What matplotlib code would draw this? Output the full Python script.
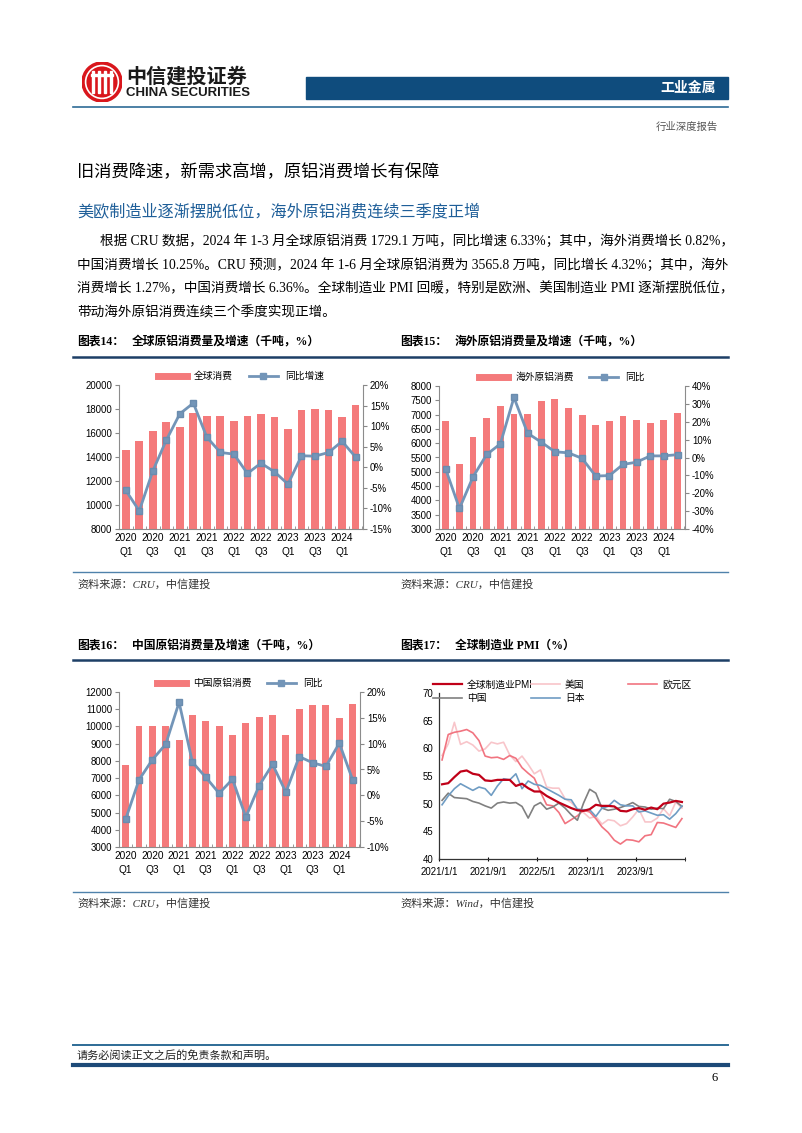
import numpy as np
import matplotlib.pyplot as plt
from matplotlib.lines import Line2D
from matplotlib.patches import Circle, Rectangle

plt.rcParams['font.family'] = ['Liberation Sans', 'Noto Sans CJK SC']
SERIF = ['Liberation Serif', 'Noto Sans CJK SC']
CJK = ['Noto Sans CJK SC', 'DejaVu Sans']

# ---- 数据 ----
q_labels = ["2020\nQ1", "2020\nQ3", "2021\nQ1", "2021\nQ3", "2022\nQ1",
            "2022\nQ3", "2023\nQ1", "2023\nQ3", "2024\nQ1"]

global_cons = [14600, 15300, 16200, 16900, 16500, 17700, 17400, 17450, 17000,
               17450, 17550, 17350, 16300, 17950, 18000, 17950, 17350, 18350]
global_yoy = [-5.6, -10.6, -0.9, 6.6, 13.0, 15.6, 7.3, 3.6, 3.2,
              -1.5, 1.0, -1.1, -4.1, 2.8, 2.7, 3.6, 6.3, 2.5]

overseas_cons = [6780, 5270, 6200, 6870, 7300, 7030, 7020, 7470, 7530,
                 7220, 7000, 6650, 6760, 6940, 6810, 6690, 6820, 7060]
overseas_yoy = [-6.7, -28.5, -10.8, 1.7, 7.6, 33.6, 13.6, 8.6, 3.2,
                2.6, -0.5, -10.4, -10.1, -3.9, -2.6, 0.9, 0.9, 1.6]

china_cons = [7780, 10030, 10000, 10000, 9190, 10690, 10340, 10030, 9480,
              10220, 10560, 10640, 9530, 11000, 11230, 11220, 10500, 11320]
china_yoy = [-4.6, 3.0, 6.9, 9.9, 18.0, 6.4, 3.5, 0.4, 3.1,
             -4.2, 1.9, 6.0, 0.6, 7.5, 6.3, 5.6, 10.1, 3.0]

pmi_ticks = ["2021/1/1", "2021/9/1", "2022/5/1", "2023/1/1", "2023/9/1"]
pmi_global = [53.5, 53.7, 54.8, 55.8, 56.0, 55.4, 55.2, 54.2, 54.1, 54.3,
              54.3, 54.3, 53.2, 53.6, 52.8, 52.2, 52.2, 51.4, 50.8, 50.2,
              49.7, 49.2, 48.8, 48.7, 49.0, 49.8, 49.6, 49.6, 49.5, 48.7,
              48.6, 49.0, 49.2, 48.9, 49.3, 49.0, 50.0, 50.2, 50.5, 50.3]
pmi_us = [58.7, 60.8, 64.7, 60.7, 61.2, 60.6, 59.5, 59.9, 61.1, 60.8,
          61.1, 58.8, 57.6, 58.6, 57.1, 55.4, 56.1, 53.0, 52.8, 52.8,
          50.9, 50.2, 49.0, 48.4, 47.4, 47.7, 46.3, 47.1, 46.9, 46.0,
          46.4, 47.6, 49.0, 46.7, 46.7, 47.4, 49.1, 47.8, 50.3, 49.2]
pmi_euro = [57.9, 62.5, 62.9, 63.1, 63.4, 62.8, 61.4, 58.6, 58.3, 58.4,
            58.0, 58.7, 58.2, 56.5, 55.5, 54.6, 52.1, 49.8, 49.6, 48.4,
            46.4, 47.1, 47.8, 48.8, 48.5, 47.3, 45.8, 44.8, 43.4, 42.7,
            43.5, 43.4, 43.1, 44.2, 44.4, 46.6, 46.5, 46.1, 45.7, 47.3]
pmi_china = [50.6, 51.9, 51.1, 51.0, 50.9, 50.4, 50.1, 49.6, 49.2, 50.1,
             50.3, 50.1, 50.2, 49.5, 47.4, 49.6, 50.2, 49.0, 49.4, 50.1,
             49.2, 48.0, 47.0, 50.1, 52.6, 51.9, 49.2, 48.8, 49.0, 49.3,
             49.7, 50.2, 49.5, 49.4, 49.0, 49.2, 49.1, 50.8, 50.4, 49.5]
pmi_japan = [49.8, 51.4, 52.7, 53.6, 53.0, 52.4, 53.0, 52.7, 51.5, 53.2,
             54.5, 54.3, 55.4, 52.7, 54.1, 53.5, 53.3, 52.7, 52.1, 51.5,
             50.8, 50.7, 49.0, 48.9, 48.9, 47.7, 49.2, 49.5, 50.6, 49.8,
             49.6, 49.6, 48.5, 48.7, 48.3, 47.9, 48.0, 47.2, 48.2, 49.6]

body_lines = [
    "根据 CRU 数据，2024 年 1-3 月全球原铝消费 1729.1 万吨，同比增速 6.33%；其中，海外消费增长 0.82%，",
    "中国消费增长 10.25%。CRU 预测，2024 年 1-6 月全球原铝消费为 3565.8 万吨，同比增长 4.32%；其中，海外",
    "消费增长 1.27%，中国消费增长 6.36%。全球制造业 PMI 回暖，特别是欧洲、美国制造业 PMI 逐渐摆脱低位，",
    "带动海外原铝消费连续三个季度实现正增。",
]

BAR_C = '#f47a7b'
LINE_C = '#7395b8'
NAVY = '#0f4c7d'

W, H = 802, 1133
fig = plt.figure(figsize=(W / 100, H / 100), dpi=100)


def fy(y):
    return 1 - y / H


def axes_px(l, t, r, b):
    return fig.add_axes([l / W, 1 - b / H, (r - l) / W, (b - t) / H])


def hline(x0, x1, y, color, lw):
    fig.add_artist(Line2D([x0 / W, x1 / W], [fy(y), fy(y)], color=color, lw=lw))


def text(x, y, s, **kw):
    fig.text(x / W, fy(y), s, va='center', **kw)


# ---- 页眉 ----
logo = axes_px(81, 62, 123, 102)
logo.set_xlim(-1, 1)
logo.set_ylim(-1, 1)
logo.set_aspect('equal')
logo.axis('off')
logo.add_patch(Circle((0, 0), 1.0, color='#d9161c'))
logo.add_patch(Circle((0, 0), 0.82, fill=False, ec='white', lw=1.2))
for xx in [-0.45, -0.15, 0.15, 0.45]:
    logo.add_patch(Rectangle((xx - 0.06, -0.55), 0.12, 1.1, color='white'))
logo.add_patch(Rectangle((-0.55, 0.3), 1.1, 0.12, color='white'))

text(126, 76, "中信建投证券", fontsize=14.5, fontweight='bold', family=CJK, color='#1a1a1a')
text(126, 93, "CHINA SECURITIES", fontsize=9.5, fontweight='bold', color='#1a1a1a')
fig.add_artist(Rectangle((306 / W, fy(99)), (728 - 306) / W, 22 / H, color=NAVY,
                         transform=fig.transFigure))
text(716, 88, "工业金属", fontsize=10, fontweight='bold', family=CJK, color='white', ha='right')
hline(73, 728, 107, '#2d6b96', 1.2)
text(718, 127, "行业深度报告", fontsize=7.5, family=CJK, color='#555555', ha='right')

# ---- 标题与正文 ----
text(77, 172, "旧消费降速，新需求高增，原铝消费增长有保障", fontsize=12.4, family=CJK, color='black')
text(77, 212, "美欧制造业逐渐摆脱低位，海外原铝消费连续三季度正增", fontsize=11.6, family=CJK,
     color='#1f5f99')
for i, line in enumerate(body_lines):
    x0 = 100 if i == 0 else 77
    text(x0, 241 + i * 24, line, fontsize=9.8, family=SERIF, color='black')

# ---- 图表标题 ----
titles = [
    (77, 342, "图表14：", "全球原铝消费量及增速（千吨，%）"),
    (400, 342, "图表15：", "海外原铝消费量及增速（千吨，%）"),
    (77, 646, "图表16：", "中国原铝消费量及增速（千吨，%）"),
    (400, 646, "图表17：", "全球制造业 PMI（%）"),
]
for x0, y0, a, b in titles:
    text(x0, y0, a, fontsize=8.5, fontweight='bold', family=SERIF)
    text(x0 + 55, y0, b, fontsize=8.5, fontweight='bold', family=SERIF)
hline(73, 728, 357, '#1d3f66', 1.8)
hline(73, 728, 660, '#1d3f66', 1.8)

hline(73, 728, 572, '#4f82ab', 1.0)
hline(73, 728, 892, '#4f82ab', 1.0)
text(77, 584, "资料来源：CRU，中信建投", fontsize=8, style='italic', family=SERIF, color='#333333')
text(400, 584, "资料来源：CRU，中信建投", fontsize=8, style='italic', family=SERIF, color='#333333')
text(77, 903, "资料来源：CRU，中信建投", fontsize=8, style='italic', family=SERIF, color='#333333')
text(400, 903, "资料来源：Wind，中信建投", fontsize=8, style='italic', family=SERIF, color='#333333')


# ---- 柱状+折线 ----
def bar_chart(box, vals, yoy, bar_lab, line_lab, ylim_l, step_l, ylim_r, step_r, bw):
    ax = axes_px(*box)
    x = np.arange(len(vals))
    ax.bar(x, vals, width=bw, color=BAR_C, zorder=2)
    ax.set_xlim(-0.4, len(vals) - 0.45)
    ax.set_ylim(*ylim_l)
    ax.set_yticks(np.arange(ylim_l[0], ylim_l[1] + 1, step_l))
    ax.set_xticks(x[::2])
    ax.set_xticklabels(q_labels, fontsize=7.3, linespacing=1.5)
    ax.set_xticks(np.arange(-0.5, len(vals), 1), minor=True)
    ax.tick_params(axis='x', which='major', length=0, pad=3)
    ax.tick_params(axis='x', which='minor', length=2.5, direction='in', color='#888888')
    ax.tick_params(axis='y', labelsize=6.9, length=3, color='#888888', pad=2)
    for s in ['top', 'right']:
        ax.spines[s].set_visible(False)
    for s in ['left', 'bottom']:
        ax.spines[s].set_color('#8c8c8c')
        ax.spines[s].set_linewidth(0.8)

    ax2 = ax.twinx()
    ax2.plot(x, yoy, color=LINE_C, lw=2, marker='s', ms=5, mfc=LINE_C, mec='#6a8cae', zorder=3)
    ax2.set_ylim(*ylim_r)
    rt = np.arange(ylim_r[0], ylim_r[1] + 1, step_r)
    ax2.set_yticks(rt)
    ax2.set_yticklabels([f"{v}%" for v in rt])
    ax2.tick_params(axis='y', labelsize=6.9, length=3, color='#888888', pad=2)
    for s in ['top', 'left', 'bottom']:
        ax2.spines[s].set_visible(False)
    ax2.spines['right'].set_color('#8c8c8c')
    ax2.spines['right'].set_linewidth(0.8)

    handles = [Line2D([], [], color=BAR_C, lw=5),
               Line2D([], [], color=LINE_C, lw=2, marker='s', ms=5)]
    h = box[3] - box[1]
    ax2.legend(handles, [bar_lab, line_lab], loc='center', ncol=2, frameon=False,
               bbox_to_anchor=(0.5, 1 + 9 / h), fontsize=7, handlelength=3,
               handletextpad=0.7, columnspacing=1.6)
    return ax


bar_chart((119, 385, 363, 529), global_cons, global_yoy, "全球消费", "同比增速",
          (8000, 20000), 2000, (-15, 20), 5, 0.58)
bar_chart((439, 386, 685, 529), overseas_cons, overseas_yoy, "海外原铝消费", "同比",
          (3000, 8000), 500, (-40, 40), 10, 0.5)
bar_chart((119, 692, 360, 847), china_cons, china_yoy, "中国原铝消费", "同比",
          (3000, 12000), 1000, (-10, 20), 5, 0.52)

# ---- PMI ----
ax = axes_px(439, 693, 685, 859)
xm = np.arange(len(pmi_global)) + 0.5
l_us, = ax.plot(xm, pmi_us, color='#f8c5ca', lw=1.2)
l_eu, = ax.plot(xm, pmi_euro, color='#f17480', lw=1.2)
l_cn, = ax.plot(xm, pmi_china, color='#808080', lw=1.2)
l_jp, = ax.plot(xm, pmi_japan, color='#6f9cc3', lw=1.2)
l_gl, = ax.plot(xm, pmi_global, color='#c00018', lw=1.6)
ax.set_xlim(0, 40)
ax.set_ylim(40, 70)
ax.set_yticks(np.arange(40, 71, 5))
ax.set_xticks(np.arange(0, 33, 8))
ax.set_xticklabels(pmi_ticks)
ax.set_xticks([40], minor=True)
ax.tick_params(axis='x', which='both', length=3, direction='inout', labelsize=6.9, pad=4)
ax.tick_params(axis='y', length=0, labelsize=6.9, pad=4)
for s in ['top', 'right']:
    ax.spines[s].set_visible(False)
for s in ['left', 'bottom']:
    ax.spines[s].set_color('#333333')
    ax.spines[s].set_linewidth(0.9)

leg_kw = dict(frameon=False, fontsize=7, handlelength=3, handletextpad=0.5,
              labelspacing=0.35, borderpad=0, bbox_transform=fig.transFigure)
lg1 = ax.legend([l_gl, l_cn], ["全球制造业PMI", "中国"], loc='upper left',
                bbox_to_anchor=(428 / W, fy(675)), **leg_kw)
ax.add_artist(lg1)
lg2 = ax.legend([l_us, l_jp], ["美国", "日本"], loc='upper left',
                bbox_to_anchor=(526 / W, fy(675)), **leg_kw)
ax.add_artist(lg2)
ax.legend([l_eu], ["欧元区"], loc='upper left',
          bbox_to_anchor=(623 / W, fy(675)), **leg_kw)

# ---- 页脚 ----
hline(73, 728, 1045, '#2d6b96', 1.4)
text(77, 1055, "请务必阅读正文之后的免责条款和声明。", fontsize=8, family=SERIF, color='#222222')
hline(73, 728, 1065, '#1d4a78', 3)
text(718, 1078, "6", fontsize=9, family=SERIF, ha='right')

fig.savefig("out.png", dpi=100)
